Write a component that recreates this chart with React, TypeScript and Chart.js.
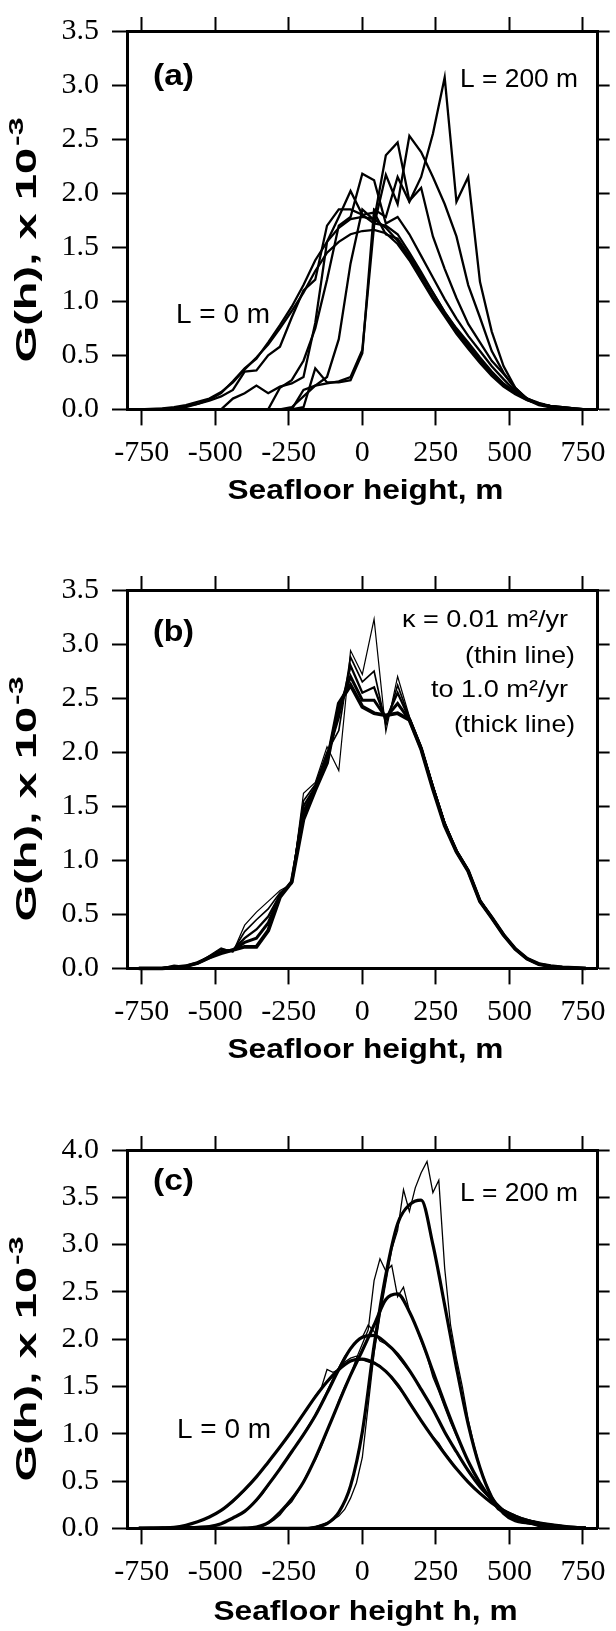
import React, { useEffect, useRef } from 'react';
import { Chart, registerables } from 'chart.js';

Chart.register(...registerables);

// ---------------- data ----------------
const hGrid40 = [
  -760, -720, -680, -640, -600, -560, -520, -480, -440, -400,
  -360, -320, -280, -240, -200, -160, -120, -80, -40, 0,
  40, 80, 120, 160, 200, 240, 280, 320, 360, 400,
  440, 480, 520, 560, 600, 640, 680, 720, 760,
];
const hGrid20 = [
  -700, -680, -660, -640, -620, -600, -580, -560, -540, -520,
  -500, -480, -460, -440, -420, -400, -380, -360, -340, -320,
  -300, -280, -260, -240, -220, -200, -180, -160, -140, -120,
  -100, -80, -60, -40, -20, 0, 20, 40, 60, 80,
  100, 120, 140, 160, 180, 200, 220, 240, 260, 280,
  300, 320, 340, 360, 380, 400, 420, 440, 460, 480,
  500, 520, 540, 560, 580, 600, 620, 640, 660, 680,
  700,
];
const xTickValues = [-750, -500, -250, 0, 250, 500, 750];
const yTicksAB = [0, 0.5, 1, 1.5, 2, 2.5, 3, 3.5];
const yTicksC = [0, 0.5, 1, 1.5, 2, 2.5, 3, 3.5, 4];

// Panel (a): L = 0 m ... L = 200 m
const aL0 = [
  0, 0.005, 0.01, 0.02, 0.04, 0.07, 0.10, 0.16, 0.25, 0.37,
  0.48, 0.60, 0.75, 0.91, 1.08, 1.28, 1.45, 1.55, 1.62, 1.65,
  1.66, 1.63, 1.53, 1.38, 1.20, 1.02, 0.86, 0.70, 0.56, 0.43,
  0.31, 0.21, 0.14, 0.085, 0.05, 0.03, 0.02, 0.01, 0,
];
const aL1 = [
  0, 0, 0.005, 0.01, 0.03, 0.05, 0.09, 0.15, 0.26, 0.38,
  0.47, 0.62, 0.78, 0.95, 1.15, 1.38, 1.55, 1.68, 1.76, 1.78,
  1.76, 1.68, 1.56, 1.40, 1.22, 1.04, 0.88, 0.72, 0.58, 0.45,
  0.33, 0.22, 0.15, 0.09, 0.05, 0.03, 0.02, 0.01, 0,
];
const aL2 = [
  0, 0, 0, 0.005, 0.02, 0.05, 0.08, 0.12, 0.18, 0.35,
  0.36, 0.50, 0.58, 0.85, 1.10, 1.20, 1.70, 1.85, 1.85, 1.80,
  1.72, 1.70, 1.62, 1.45, 1.27, 1.08, 0.90, 0.75, 0.62, 0.48,
  0.35, 0.24, 0.16, 0.10, 0.06, 0.03, 0.02, 0.01, 0,
];
const aL3 = [
  0, 0, 0, 0, 0, 0, 0, 0, 0.10, 0.15,
  0.22, 0.15, 0.21, 0.24, 0.30, 0.80, 1.55, 1.78, 2.02, 1.80,
  1.82, 1.62, 1.58, 1.42, 1.25, 1.08, 0.90, 0.74, 0.60, 0.47,
  0.34, 0.23, 0.15, 0.09, 0.05, 0.03, 0.015, 0.005, 0,
];
const aL4 = [
  0, 0, 0, 0, 0, 0, 0, 0, 0, 0,
  0, 0, 0.20, 0.27, 0.45, 0.75, 1.20, 1.70, 1.78, 2.18,
  2.12, 1.72, 1.78, 1.62, 1.42, 1.22, 1.02, 0.84, 0.68, 0.54,
  0.40, 0.28, 0.17, 0.10, 0.05, 0.03, 0.015, 0.005, 0,
];
const aL5 = [
  0, 0, 0, 0, 0, 0, 0, 0, 0, 0,
  0, 0, 0, 0, 0.18, 0.22, 0.30, 0.65, 1.35, 1.85,
  1.75, 2.35, 2.47, 1.93, 2.05, 1.60, 1.30, 1.03, 0.79, 0.62,
  0.45, 0.33, 0.20, 0.10, 0.05, 0.03, 0.015, 0.005, 0,
];
const aL6 = [
  0, 0, 0, 0, 0, 0, 0, 0, 0, 0,
  0, 0, 0, 0.02, 0.12, 0.22, 0.24, 0.26, 0.30, 0.55,
  1.70, 2.17, 1.90, 2.53, 2.38, 2.15, 1.90, 1.60, 1.15, 0.85,
  0.54, 0.34, 0.19, 0.10, 0.05, 0.02, 0.01, 0, 0,
];
const aL7 = [
  0, 0, 0, 0, 0, 0, 0, 0, 0, 0,
  0, 0, 0, 0, 0.02, 0.38, 0.25, 0.25, 0.27, 0.52,
  1.85, 1.78, 2.15, 1.92, 2.15, 2.55, 3.07, 1.92, 2.15, 1.18,
  0.72, 0.40, 0.20, 0.09, 0.04, 0.02, 0.01, 0, 0,
];

// Panel (b): kappa = 0.01 (thin) ... 1.0 (thick)
const bK0 = [
  0, 0, 0.005, 0.03, 0.02, 0.05, 0.12, 0.19, 0.15, 0.40,
  0.52, 0.62, 0.72, 0.78, 1.62, 1.72, 2.05, 1.83, 2.94, 2.72,
  3.23, 2.19, 2.70, 2.33, 2.06, 1.70, 1.36, 1.10, 0.92, 0.64,
  0.48, 0.32, 0.18, 0.09, 0.04, 0.02, 0.01, 0.005, 0,
];
const bK1 = [
  0, 0, 0.003, 0.02, 0.02, 0.05, 0.11, 0.18, 0.16, 0.34,
  0.45, 0.55, 0.70, 0.79, 1.55, 1.70, 2.00, 2.20, 2.88, 2.65,
  2.75, 2.25, 2.62, 2.32, 2.05, 1.69, 1.35, 1.09, 0.91, 0.63,
  0.48, 0.32, 0.18, 0.09, 0.04, 0.02, 0.01, 0.005, 0,
];
const bK2 = [
  0, 0, 0.002, 0.015, 0.02, 0.05, 0.11, 0.16, 0.17, 0.28,
  0.36, 0.48, 0.68, 0.80, 1.50, 1.68, 1.96, 2.32, 2.80, 2.55,
  2.60, 2.30, 2.55, 2.31, 2.04, 1.68, 1.34, 1.09, 0.91, 0.63,
  0.47, 0.31, 0.18, 0.09, 0.04, 0.02, 0.01, 0.005, 0,
];
const bK3 = [
  0, 0, 0.001, 0.01, 0.02, 0.05, 0.10, 0.15, 0.17, 0.24,
  0.28, 0.42, 0.67, 0.80, 1.45, 1.66, 1.93, 2.40, 2.70, 2.48,
  2.48, 2.32, 2.45, 2.30, 2.03, 1.67, 1.33, 1.08, 0.90, 0.62,
  0.47, 0.31, 0.18, 0.09, 0.04, 0.02, 0.01, 0.005, 0,
];
const bK4 = [
  0, 0, 0, 0.01, 0.02, 0.05, 0.10, 0.14, 0.17, 0.20,
  0.20, 0.35, 0.66, 0.80, 1.38, 1.65, 1.90, 2.45, 2.62, 2.42,
  2.36, 2.34, 2.36, 2.30, 2.03, 1.66, 1.32, 1.08, 0.90, 0.62,
  0.47, 0.31, 0.18, 0.09, 0.04, 0.02, 0.01, 0.005, 0,
];

// Panel (c): smooth (thick) curves, L = 0 ... 200 m
const cS0 = [
  0, 0.002, 0.005, 0.012, 0.034, 0.07, 0.12, 0.19, 0.29, 0.41,
  0.545, 0.70, 0.86, 1.03, 1.21, 1.39, 1.55, 1.68, 1.77, 1.79,
  1.75, 1.66, 1.52, 1.33, 1.14, 0.96, 0.79, 0.63, 0.49, 0.37,
  0.27, 0.19, 0.13, 0.085, 0.055, 0.035, 0.02, 0.01, 0.005,
];
const cS1 = [
  0, 0, 0.002, 0.004, 0.008, 0.012, 0.02, 0.05, 0.11, 0.18,
  0.30, 0.46, 0.63, 0.81, 0.99, 1.19, 1.43, 1.68, 1.90, 2.02,
  2.04, 1.96, 1.84, 1.67, 1.47, 1.26, 1.02, 0.81, 0.61, 0.44,
  0.31, 0.19, 0.13, 0.085, 0.06, 0.04, 0.025, 0.01, 0.005,
];
const cS2 = [
  0, 0, 0, 0, 0, 0, 0, 0, 0, 0.003,
  0.015, 0.06, 0.17, 0.31, 0.49, 0.74, 1.03, 1.33, 1.62, 1.88,
  2.15, 2.42, 2.48, 2.29, 2.00, 1.66, 1.32, 1.00, 0.71, 0.48,
  0.30, 0.17, 0.10, 0.065, 0.045, 0.03, 0.015, 0.005, 0,
];
const cS3 = [
  0, 0, 0, 0, 0, 0, 0, 0, 0, 0,
  0, 0, 0, 0, 0, 0.01, 0.05, 0.17, 0.45, 1.02,
  1.93, 2.68, 3.22, 3.42, 3.47, 3.00, 2.36, 1.70, 1.10, 0.64,
  0.33, 0.16, 0.08, 0.06, 0.04, 0.02, 0.01, 0, 0,
];
// Panel (c): noisy (thin) simulated histograms
const cN0 = [
  0, 0.005, 0.01, 0.015, 0.02, 0.035, 0.05, 0.07, 0.09, 0.12,
  0.15, 0.19, 0.23, 0.28, 0.34, 0.40, 0.47, 0.54, 0.62, 0.69,
  0.78, 0.86, 0.95, 1.03, 1.12, 1.21, 1.30, 1.40, 1.48, 1.68,
  1.65, 1.68, 1.76, 1.80, 1.82, 1.78, 1.76, 1.74, 1.72, 1.66,
  1.58, 1.50, 1.42, 1.34, 1.24, 1.14, 1.05, 0.97, 0.90, 0.80,
  0.72, 0.63, 0.56, 0.49, 0.43, 0.37, 0.32, 0.27, 0.22, 0.18,
  0.15, 0.12, 0.10, 0.09, 0.08, 0.06, 0.04, 0.03, 0.02, 0.01,
  0,
];
const cN1 = [
  0, 0, 0, 0, 0, 0.005, 0.008, 0.01, 0.012, 0.015,
  0.03, 0.05, 0.08, 0.11, 0.14, 0.18, 0.23, 0.29, 0.36, 0.45,
  0.55, 0.63, 0.72, 0.80, 0.90, 1.00, 1.10, 1.20, 1.32, 1.45,
  1.58, 1.70, 1.82, 1.90, 1.98, 2.02, 2.15, 2.08, 1.98, 1.95,
  1.90, 1.82, 1.74, 1.66, 1.58, 1.47, 1.37, 1.26, 1.14, 1.02,
  0.92, 0.80, 0.70, 0.60, 0.52, 0.44, 0.36, 0.30, 0.24, 0.19,
  0.16, 0.13, 0.10, 0.09, 0.07, 0.06, 0.05, 0.04, 0.03, 0.02,
  0.01,
];
const cN2 = [
  0, 0, 0, 0, 0, 0, 0, 0, 0, 0,
  0, 0, 0, 0, 0, 0, 0, 0.01, 0.02, 0.05,
  0.09, 0.14, 0.22, 0.28, 0.38, 0.50, 0.62, 0.72, 0.86, 1.02,
  1.18, 1.35, 1.50, 1.62, 1.80, 1.95, 2.10, 2.62, 2.85, 2.72,
  2.78, 2.45, 2.55, 2.30, 2.15, 1.98, 1.82, 1.60, 1.45, 1.28,
  1.12, 0.98, 0.84, 0.70, 0.58, 0.46, 0.38, 0.28, 0.20, 0.16,
  0.12, 0.09, 0.07, 0.05, 0.04, 0.02, 0.01, 0, 0, 0,
  0,
];
const cN3 = [
  0, 0, 0, 0, 0, 0, 0, 0, 0, 0,
  0, 0, 0, 0, 0, 0, 0, 0, 0, 0,
  0, 0, 0, 0, 0, 0, 0.01, 0.02, 0.04, 0.06,
  0.09, 0.13, 0.20, 0.32, 0.48, 0.75, 1.30, 1.85, 2.25, 2.60,
  2.95, 3.15, 3.58, 3.35, 3.60, 3.76, 3.88, 3.55, 3.68, 2.75,
  2.15, 1.80, 1.50, 1.15, 0.88, 0.65, 0.48, 0.34, 0.24, 0.16,
  0.11, 0.08, 0.06, 0.05, 0.06, 0.03, 0.02, 0.01, 0, 0,
  0,
];

// ---------------- helpers ----------------
const SANS = '"Liberation Sans", Arial, Helvetica, sans-serif';
const SERIF = '"Liberation Serif", "Times New Roman", Times, serif';

type TextItem = {
  text: string;
  x: number;
  y: number;
  size: number;
  bold?: boolean;
  align?: 'left' | 'right' | 'center';
  width?: number;
  sup?: string;
  rotate?: boolean;
};

function drawText(ctx: CanvasRenderingContext2D, t: TextItem) {
  ctx.save();
  const font = (sz: number) => `${t.bold ? 'bold ' : ''}${sz}px ${SANS}`;
  ctx.font = font(t.size);
  const mainW = ctx.measureText(t.text).width;
  let supW = 0;
  const supSize = t.size * 0.68;
  if (t.sup) {
    ctx.font = font(supSize);
    supW = ctx.measureText(t.sup).width + t.size * 0.04;
  }
  const natural = mainW + supW;
  const sx = t.width ? t.width / natural : 1;
  ctx.translate(t.x, t.y);
  if (t.rotate) ctx.rotate(-Math.PI / 2);
  ctx.scale(sx, 1);
  const align = t.align || 'left';
  const start = align === 'left' ? 0 : align === 'right' ? -natural : -natural / 2;
  ctx.fillStyle = '#000';
  ctx.textAlign = 'left';
  ctx.textBaseline = 'middle';
  ctx.font = font(t.size);
  ctx.fillText(t.text, start, 0);
  if (t.sup) {
    ctx.font = font(supSize);
    ctx.fillText(t.sup, start + mainW + t.size * 0.04, -t.size * 0.36);
  }
  ctx.restore();
}

type Series = { xs: number[]; ys: number[]; width: number; smooth?: boolean };

const PLOT_TOP = 21.5;
const PLOT_BOTTOM = 409.4;

function buildChart(
  canvas: HTMLCanvasElement,
  height: number,
  yMax: number,
  yTicks: number[],
  series: Series[],
  texts: TextItem[]
) {
  const fixTicks = (vals: number[]) => (s: any) => {
    s.ticks = vals.map((v) => ({ value: v }));
  };
  const grid = (len: number) => ({
    drawOnChartArea: false,
    drawTicks: true,
    tickLength: len,
    tickWidth: 2,
    tickColor: '#000',
  });
  const border = { display: true, color: '#000', width: 3 };

  const annot = {
    id: 'annot',
    afterDraw(chart: any) {
      texts.forEach((t) => drawText(chart.ctx, t));
    },
  };

  return new Chart(canvas, {
    type: 'line',
    data: {
      datasets: series.map((s) => ({
        data: s.xs.map((x, i) => ({ x, y: s.ys[i] })),
        borderColor: '#000',
        backgroundColor: '#000',
        borderWidth: s.width,
        pointRadius: 0,
        fill: false,
        tension: s.smooth ? 0.4 : 0,
        cubicInterpolationMode: s.smooth ? 'monotone' : 'default',
        clip: 4,
      })),
    },
    options: {
      animation: false,
      responsive: false,
      maintainAspectRatio: false,
      events: [],
      layout: { padding: { top: PLOT_TOP - 14, left: 0, right: 0, bottom: 0 } },
      plugins: { legend: { display: false }, tooltip: { enabled: false }, title: { display: false } },
      scales: {
        x: {
          type: 'linear',
          position: 'bottom',
          min: -800,
          max: 800,
          afterBuildTicks: fixTicks(xTickValues),
          grid: grid(16),
          border,
          ticks: {
            color: '#000',
            font: { family: SERIF, size: 30 },
            padding: 10,
            maxRotation: 0,
            autoSkip: false,
            callback: (v: any) => String(v),
          },
          afterFit: (s: any) => {
            s.height = height - PLOT_BOTTOM;
          },
        },
        x2: {
          type: 'linear',
          position: 'top',
          min: -800,
          max: 800,
          afterBuildTicks: fixTicks(xTickValues),
          grid: grid(14),
          border,
          ticks: { display: false },
          afterFit: (s: any) => {
            s.height = 14;
          },
        },
        y: {
          type: 'linear',
          position: 'left',
          min: 0,
          max: yMax,
          afterBuildTicks: fixTicks(yTicks),
          grid: grid(15),
          border,
          ticks: {
            color: '#000',
            font: { family: SERIF, size: 30 },
            padding: 13,
            autoSkip: false,
            callback: (v: any) => Number(v).toFixed(1),
          },
          afterFit: (s: any) => {
            s.width = 127;
          },
        },
        y2: {
          type: 'linear',
          position: 'right',
          min: 0,
          max: yMax,
          afterBuildTicks: fixTicks(yTicks),
          grid: grid(12),
          border,
          ticks: { display: false },
          afterFit: (s: any) => {
            s.width = 12;
          },
        },
      },
    } as any,
    plugins: [annot],
  });
}

function yTitle(): TextItem {
  return { text: 'G(h), x 10', sup: '-3', x: 28, y: 240, size: 30, bold: true, align: 'center', width: 245, rotate: true };
}

function PanelCanvas(props: { top: number; height: number; make: (c: HTMLCanvasElement, h: number) => Chart }) {
  const ref = useRef<HTMLCanvasElement>(null);
  useEffect(() => {
    const chart = props.make(ref.current as HTMLCanvasElement, props.height);
    return () => chart.destroy();
  }, []);
  return (
    <div style={{ position: 'absolute', left: 0, top: props.top, width: 616, height: props.height }}>
      <canvas ref={ref} width={616} height={props.height} style={{ display: 'block', width: 616, height: props.height }} />
    </div>
  );
}

const makeA = (c: HTMLCanvasElement, h: number) =>
  buildChart(
    c,
    h,
    3.5,
    yTicksAB,
    [aL0, aL1, aL2, aL3, aL4, aL5, aL6, aL7].map((ys) => ({ xs: hGrid40, ys, width: 2.3 })),
    [
      { text: '(a)', x: 153, y: 77, size: 29, bold: true, width: 41 },
      { text: 'L = 200 m', x: 460, y: 80, size: 26, width: 118 },
      { text: 'L = 0 m', x: 176, y: 316, size: 27, width: 94 },
      { text: 'Seafloor height, m', x: 365.5, y: 491, size: 28, bold: true, align: 'center', width: 276 },
      yTitle(),
    ]
  );

const makeB = (c: HTMLCanvasElement, h: number) =>
  buildChart(
    c,
    h,
    3.5,
    yTicksAB,
    [
      { xs: hGrid40, ys: bK4, width: 3.8 },
      { xs: hGrid40, ys: bK3, width: 3.0 },
      { xs: hGrid40, ys: bK2, width: 2.3 },
      { xs: hGrid40, ys: bK1, width: 1.7 },
      { xs: hGrid40, ys: bK0, width: 1.2 },
    ],
    [
      { text: '(b)', x: 153, y: 74, size: 29, bold: true, width: 41 },
      { text: 'κ = 0.01 m²/yr', x: 568, y: 61, size: 24, align: 'right', width: 166 },
      { text: '(thin line)', x: 575, y: 97, size: 24, align: 'right', width: 110 },
      { text: 'to 1.0 m²/yr', x: 568, y: 131, size: 24, align: 'right', width: 137 },
      { text: '(thick line)', x: 575, y: 166, size: 24, align: 'right', width: 121 },
      { text: 'Seafloor height, m', x: 365.5, y: 491, size: 28, bold: true, align: 'center', width: 276 },
      yTitle(),
    ]
  );

const makeC = (c: HTMLCanvasElement, h: number) =>
  buildChart(
    c,
    h,
    4.0,
    yTicksC,
    [
      { xs: hGrid20, ys: cN0, width: 1.3 },
      { xs: hGrid20, ys: cN1, width: 1.3 },
      { xs: hGrid20, ys: cN2, width: 1.3 },
      { xs: hGrid20, ys: cN3, width: 1.3 },
      { xs: hGrid40, ys: cS0, width: 3.2, smooth: true },
      { xs: hGrid40, ys: cS1, width: 3.2, smooth: true },
      { xs: hGrid40, ys: cS2, width: 3.2, smooth: true },
      { xs: hGrid40, ys: cS3, width: 3.2, smooth: true },
    ],
    [
      { text: '(c)', x: 153, y: 63, size: 29, bold: true, width: 41 },
      { text: 'L = 200 m', x: 460, y: 75, size: 26, width: 118 },
      { text: 'L = 0 m', x: 177, y: 312, size: 27, width: 94 },
      { text: 'Seafloor height h, m', x: 365.5, y: 493, size: 28, bold: true, align: 'center', width: 304 },
      yTitle(),
    ]
  );

export default function App() {
  return (
    <div style={{ position: 'absolute', left: 0, top: 0, width: 616, height: 1631, background: '#fff' }}>
      <PanelCanvas top={0} height={559} make={makeA} />
      <PanelCanvas top={559} height={560} make={makeB} />
      <PanelCanvas top={1119} height={512} make={makeC} />
    </div>
  );
}
